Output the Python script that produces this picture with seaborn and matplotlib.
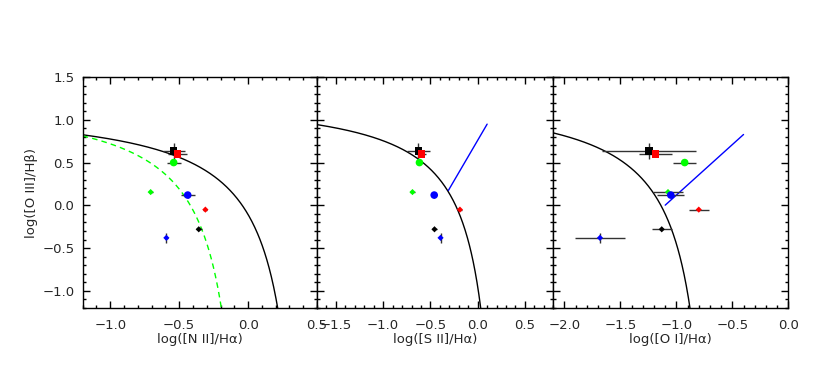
import numpy as np
import pandas as pd
import matplotlib
matplotlib.use("Agg")
import matplotlib.pyplot as plt
from matplotlib.ticker import MultipleLocator
import seaborn as sns

# ---------------- data ----------------
colors = ["black", "red", "#00ff00", "blue", "#00ff00", "red", "black", "blue"]
markers = ["s", "s", "o", "o", "D", "D", "D", "D"]
sizes = ["big", "big", "big", "big", "small", "small", "small", "small"]

y_oiii = [0.635, 0.603, 0.50, 0.12, 0.155, -0.05, -0.28, -0.38]
yerr = [0.09, 0.03, 0.03, 0.04, 0.01, 0.01, 0.01, 0.055]

x_nii = [-0.54, -0.513, -0.54, -0.438, -0.707, -0.31, -0.358, -0.593]
xerr_nii = [0.08, 0.07, 0.05, 0.05, 0.015, 0.015, 0.02, 0.01]

x_sii = [-0.627, -0.595, -0.616, -0.46, -0.69, -0.188, -0.457, -0.393]
xerr_sii = [0.12, 0.045, 0.03, 0.03, 0.03, 0.02, 0.03, 0.01]

x_oi = [-1.245, -1.188, -0.926, -1.05, -1.075, -0.80, -1.131, -1.683]
xerr_oi = [0.42, 0.15, 0.105, 0.12, 0.135, 0.087, 0.09, 0.22]

# demarcation-line coefficients (Kewley 2001 / Kauffmann 2003 / Kewley 2006)
kew_nii = (0.61, 0.47, 1.19)
kau_nii = (0.61, 0.05, 1.30)
kew_sii = (0.72, 0.32, 1.30)
kew_oi = (0.73, -0.59, 1.33)
sey_sii = (1.89, 0.76, -0.31, 0.10)
sey_oi = (1.18, 1.30, -1.10, -0.40)

xlabels = ["log([N II]/Hα)", "log([S II]/Hα)", "log([O I]/Hα)"]
ylabel = "log([O III]/Hβ)"
xlims = [(-1.2, 0.5), (-1.7, 0.8), (-2.1, 0.0)]
ylim = (-1.2, 1.5)

# ---------------- style ----------------
sns.set_style("ticks")
plt.rcParams["font.family"] = ["DejaVu Sans"]
plt.rcParams["font.size"] = 9.5
FS = 9.5

fig = plt.figure(figsize=(8.3, 3.86), dpi=100)
W, H = 830.0, 386.0
lefts = [82.7, 317.0, 553.3]
rights = [317.0, 553.3, 788.3]
top, bottom = 77.0, 308.0
axes = []
for l, r in zip(lefts, rights):
    ax = fig.add_axes([l / W, (H - bottom) / H, (r - l) / W, (bottom - top) / H])
    axes.append(ax)


def curve(coef, x0, x1, ax, **kw):
    a, b, c = coef
    xs = np.linspace(x0, x1, 400)
    ys = a / (xs - b) + c
    m = ys >= ylim[0] - 0.05
    sns.lineplot(x=xs[m], y=ys[m], ax=ax, sort=False, estimator=None, **kw)


def points(ax, xs, xe):
    for i in range(len(xs)):
        ax.errorbar(xs[i], y_oiii[i], xerr=xe[i], yerr=yerr[i], fmt="none",
                    ecolor="#333333", elinewidth=1.0, capsize=0, zorder=3)
    df = pd.DataFrame({"x": xs, "y": y_oiii, "c": colors, "m": markers, "s": sizes})
    for (m, s), g in df.groupby(["m", "s"]):
        sns.scatterplot(data=g, x="x", y="y", ax=ax, marker=m,
                        s=30 if s == "big" else 10, c=g["c"].tolist(),
                        edgecolor="none", linewidth=0, zorder=4, legend=False)


def fmt(v, p):
    return "0.0" if abs(v) < 1e-9 else ("%.1f" % v).replace("-", "\u2212")


# panel 1
ax = axes[0]
curve(kew_nii, -1.2, 0.46, ax, color="black", lw=1.0)
curve(kau_nii, -1.2, 0.04, ax, color="#00ff00", lw=1.0, linestyle=(0, (4, 3)))
points(ax, x_nii, xerr_nii)

# panel 2
ax = axes[1]
curve(kew_sii, -1.7, 0.31, ax, color="black", lw=1.0)
a, b, x0, x1 = sey_sii
sns.lineplot(x=[x0, x1], y=[a * x0 + b, a * x1 + b], ax=ax, color="blue", lw=1.0)
points(ax, x_sii, xerr_sii)

# panel 3
ax = axes[2]
curve(kew_oi, -2.1, -0.6, ax, color="black", lw=1.0)
a, b, x0, x1 = sey_oi
sns.lineplot(x=[x0, x1], y=[a * x0 + b, a * x1 + b], ax=ax, color="blue", lw=1.0)
points(ax, x_oi, xerr_oi)

for i, ax in enumerate(axes):
    ax.set_xlim(*xlims[i])
    ax.set_ylim(*ylim)
    ax.xaxis.set_major_locator(MultipleLocator(0.5))
    ax.xaxis.set_minor_locator(MultipleLocator(0.1))
    ax.yaxis.set_major_locator(MultipleLocator(0.5))
    ax.yaxis.set_minor_locator(MultipleLocator(0.1))
    ax.tick_params(which="both", direction="in", top=True, right=True,
                   labelsize=FS, width=1.0, color="black")
    ax.tick_params(which="major", length=5, pad=8)
    ax.tick_params(which="minor", length=2.5)
    for sp in ax.spines.values():
        sp.set_linewidth(1.0)
        sp.set_color("black")
    ax.set_xlabel(xlabels[i], fontsize=FS, labelpad=1)
    ax.xaxis.set_major_formatter(matplotlib.ticker.FuncFormatter(fmt))
    if i == 0:
        ax.set_ylabel(ylabel, fontsize=FS, labelpad=3)
        ax.yaxis.set_major_formatter(matplotlib.ticker.FuncFormatter(fmt))
        ax.tick_params(axis="y", which="major", pad=6)
    else:
        ax.set_ylabel("")
        ax.set_yticklabels([])

fig.savefig("out.png", dpi=100)
